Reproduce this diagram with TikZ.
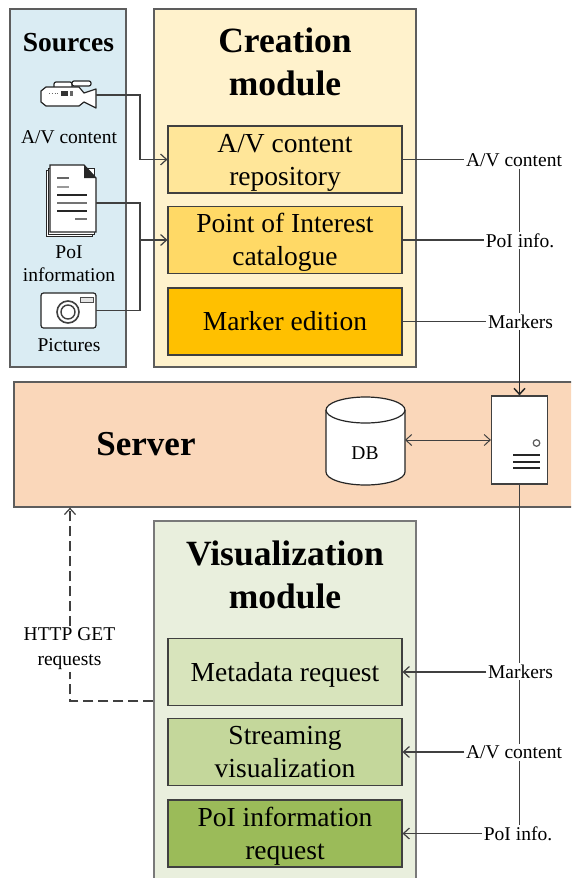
\documentclass[tikz,border=0pt]{standalone}
\usepackage{fontspec}
\setmainfont{Liberation Serif}
\usetikzlibrary{arrows.meta,calc}
\definecolor{srcF}{HTML}{DAECF3}
\definecolor{creF}{HTML}{FFF2CC}
\definecolor{repF}{HTML}{FFE699}
\definecolor{poiF}{HTML}{FFD966}
\definecolor{mrkF}{HTML}{FFC000}
\definecolor{srvF}{HTML}{FAD7BA}
\definecolor{visF}{HTML}{E9EFDD}
\definecolor{metF}{HTML}{D8E4BC}
\definecolor{strF}{HTML}{C4D79B}
\definecolor{reqF}{HTML}{9BBB59}
\definecolor{edge}{HTML}{404040}
\newcommand{\lowertext}[1]{\raisebox{-2.5pt}[\height][\depth]{\begin{tabular}{@{}c@{}}#1\end{tabular}}}
\tikzset{
  x=1pt,y=-1pt,
  panel/.style={draw=edge!85,line width=1.3pt,anchor=center,inner sep=0pt},
  inbox/.style={draw=edge,line width=1.1pt,minimum width=234pt,minimum height=67pt,inner sep=0pt,align=center,
    font=\fontsize{27.5}{33}\selectfont},
  title/.style={align=center,inner sep=0pt,font=\fontsize{35.5}{42.5}\selectfont\bfseries},
  small/.style={align=center,inner sep=1.5pt,font=\fontsize{19.5}{23}\selectfont},
  icon/.style={inner sep=0pt,draw=none},
  conn/.style={draw=edge,line width=1.2pt},
  tip/.style={-{Straight Barb[length=6pt,width=11pt]}},
  ink/.style={draw=black!85,line width=1.2pt},
}
\begin{document}
\begin{tikzpicture}
\useasboundingbox (0,0) rectangle (571,878);
\clip (0,0) rectangle (571,878);
% panels
\node[panel,fill=srcF,minimum width=116pt,minimum height=358pt] (src) at (68,188) {};
\node[panel,fill=creF,minimum width=262pt,minimum height=358pt] (cre) at (285,188) {};
\node[panel,fill=srvF,minimum width=600pt,minimum height=125pt] (srvband) at (314,444.5) {};
\node[panel,fill=visF,draw=edge!70,minimum width=262pt,minimum height=400pt] (vis) at (285,721) {};
% titles
\node[inner sep=0pt,font=\fontsize{27.5}{33}\selectfont\bfseries] (srcT) at (68.5,43) {Sources};
\node[title] (creT) at (285,62) {Creation\\module};
\node[inner sep=0pt,font=\fontsize{35}{42}\selectfont\bfseries] (srvT) at (146,444) {Server};
\node[title] (visT) at (285,575) {Visualization\\module};
% inner boxes
\node[inbox,fill=repF] (repo) at (285,159.5) {\lowertext{A/V content\\repository}};
\node[inbox,fill=poiF] (poi) at (285,240) {\lowertext{Point of Interest\\catalogue}};
\node[inbox,fill=mrkF] (mark) at (285,321.5) {\lowertext{Marker edition}};
\node[inbox,fill=metF] (meta) at (285,672) {\lowertext{Metadata request}};
\node[inbox,fill=strF] (stream) at (285,752) {\lowertext{Streaming\\visualization}};
\node[inbox,fill=reqF] (req) at (285,833.5) {\lowertext{PoI information\\request}};
% source labels
\node[small] (lAV) at (69,137) {A/V content};
\node[small] (lPoI) at (69,263.5) {PoI\\information};
\node[small] (lPic) at (69,345) {Pictures};
% icon anchors
\node[icon,minimum width=56pt,minimum height=28pt] (cam) at (68,95) {};
\node[icon,minimum width=52pt,minimum height=76pt] (doc) at (70,203) {};
\node[icon,minimum width=55pt,minimum height=35pt] (photo) at (68.5,310.5) {};
% camcorder
\draw[ink,fill=white,rounded corners=2pt] (54,87) -- (54,82) -- (72,82) -- (72,87);
\draw[ink,fill=white,rounded corners=2pt] (72,81) rectangle (91,86);
\draw[ink,fill=white,line join=round] (41,91) -- (46,87) -- (79,87) -- (84,93) -- (96,89) -- (96,108) -- (84,102) -- (79,106) -- (46,106) -- (41,102) -- cycle;
\fill[black!80] (61,91) rectangle (68,96);
\fill[black!60] (70,91) rectangle (73,96);
\draw[black!60,line width=.8pt,dotted] (49,93) -- (58,93);
% document
\draw[draw=black!85,line width=1pt,fill=white] (46,170) rectangle (92,236);
\draw[draw=black!85,line width=1pt,fill=white] (48,168) rectangle (94,234);
\draw[ink,fill=white] (50,165) -- (84,165) -- (96,178) -- (96,232) -- (50,232) -- cycle;
\fill[black!85] (84,165) -- (96,178) -- (84,178) -- cycle;
\foreach \yy/\xa/\xb/\cc in {178/57/69/60,187/57/69/40,195/57/87/85,203/57/87/55,211/57/87/85,219/75/87/55}
  \draw[black!\cc,line width=1.2pt] (\xa,\yy) -- (\xb,\yy);
% photo camera
\draw[ink,fill=white,rounded corners=2.5pt] (41,293) rectangle (96,328);
\draw[black!75,line width=1.6pt] (68,312) circle (11);
\draw[black!75,line width=1.4pt] (68,312) circle (7);
\draw[black!70,line width=1pt,fill=black!10] (80,297) rectangle (93,302);
% DB
\draw[ink,fill=white] (326,410) -- (326,472) arc[start angle=180,end angle=360,x radius=39.5pt,y radius=13pt] -- (405,410);
\draw[ink,fill=white] (365.5,410) ellipse [x radius=39.5pt,y radius=13pt];
\node[inner sep=0pt,font=\fontsize{19.5}{23}\selectfont] (dbT) at (365,453) {DB};
\coordinate (dbE) at (405,440);
% server icon
\node[draw=edge,line width=1.2pt,fill=white,minimum width=56pt,minimum height=88pt,inner sep=0pt] (srv) at (519.5,440) {};
\draw[black!65,line width=1.2pt] (536.5,443) circle (3.3);
\foreach \yy in {455,462,468} \draw[black!85,line width=1.3pt] (513,\yy) -- (540,\yy);
% left connectors
\coordinate (busA) at (140,95);
\coordinate (busB) at (140,203);
\coordinate (busC) at (140,310.5);
\coordinate (busM) at (140,240);
\draw[conn,tip] (cam.east) -- (busA) |- (repo.west);
\draw[conn] (doc.east) -- (busB) -- (busC) -- (photo.east);
\draw[conn,tip] (busM) -- (poi.west);
% right labels
\node[small] (oAV) at (514,160.5) {A/V content};
\node[small] (oPoI) at (520,240.5) {PoI info.};
\node[small] (oMk) at (520.5,321.5) {Markers};
\node[small] (iMk) at (520.5,671.5) {Markers};
\node[small] (iAV) at (514,752.5) {A/V content};
\node[small] (iPoI) at (518,833.5) {PoI info.};
% right connectors
\draw[conn] (repo.east) -- (repo.east -| oAV.west);
\draw[conn] (poi.east) -- (poi.east -| oPoI.west);
\draw[conn] (mark.east) -- (mark.east -| oMk.west);
\draw[conn] (srv.north |- oAV.south) -- (srv.north |- oPoI.north);
\draw[conn] (srv.north |- oPoI.south) -- (srv.north |- oMk.north);
\draw[conn,line width=1.5pt,draw=black!85,tip] (srv.north |- oMk.south) -- (srv.north);
\draw[conn] (srv.south) -- (srv.south |- iMk.north);
\draw[conn] (srv.south |- iMk.south) -- (srv.south |- iAV.north);
\draw[conn] (srv.south |- iAV.south) -- (srv.south |- iPoI.north);
\draw[conn,tip] (meta.east -| iMk.west) -- (meta.east);
\draw[conn,tip] (stream.east -| iAV.west) -- (stream.east);
\draw[conn,tip] (req.east -| iPoI.west) -- (req.east);
% DB <-> server
\draw[conn,line width=1pt,{Straight Barb[length=6pt,width=11pt]}-{Straight Barb[length=6pt,width=11pt]}] (dbE) -- (srv.west |- dbE);
% HTTP
\node[small,font=\fontsize{19.5}{25}\selectfont] (http) at (69.5,649) {HTTP GET\\requests};
\coordinate (vcorner) at (70,701);
\draw[conn,dashed,dash pattern=on 10pt off 5pt] (vis.west |- vcorner) -- (vcorner) -- (http.south -| vcorner);
\draw[conn,dashed,dash pattern=on 10pt off 5pt,tip] (http.north -| vcorner) -- (srvband.south -| vcorner);
\end{tikzpicture}
\end{document}
